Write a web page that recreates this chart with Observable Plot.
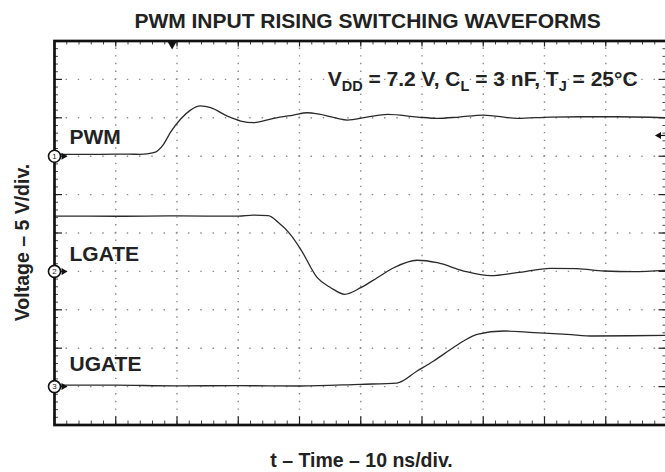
<!DOCTYPE html>
<html><head><meta charset="utf-8">
<script src="https://cdn.jsdelivr.net/npm/d3@7"></script>
<script src="https://cdn.jsdelivr.net/npm/@observablehq/plot@0.6"></script>
<style>
html,body{margin:0;padding:0;background:#fff;overflow:hidden;}
#chart{width:668px;height:472px;}
#chart svg{max-width:none !important;display:block;}
</style></head><body><div id="chart"></div>
<script>
// ---- data ----
const titleText = "PWM INPUT RISING SWITCHING WAVEFORMS";
const xLabel = "t – Time – 10 ns/div.";
const yLabel = "Voltage – 5 V/div.";
const annotation = "VDD = 7.2 V, CL = 3 nF, TJ = 25°C";
const channels = ["PWM", "LGATE", "UGATE"];
const channelNumbers = ["1", "2", "3"];
const nsPerDiv = 10;
const voltsPerDiv = 5;
const triggerTime = 19.2;   // ns
const triggerLevel = 2.7;   // V on channel 1

const pwmTime  = [0, 5, 10, 14, 16.2, 17.8, 18.9, 20.6, 22.2, 23.8, 25.5, 28.2, 30.4, 32.5, 35.8, 39.0, 41.3, 43.4, 47.8, 51.0, 54.4, 59.3, 62.5, 66.0, 70.0, 75.6, 81.0, 86.4, 91.9, 100];
const pwmVolts = [0.25, 0.23, 0.27, 0.25, 0.46, 1.55, 3.06, 4.84, 6.0, 6.54, 6.31, 5.23, 4.58, 4.36, 4.93, 5.36, 5.66, 5.45, 4.71, 5.1, 5.45, 5.10, 4.93, 5.1, 5.36, 4.93, 5.10, 5.14, 5.14, 5.01];

const lgateTime  = [0, 10, 20, 30, 32.5, 34.9, 36.5, 38.5, 40.2, 42.9, 45.1, 47.4, 50.0, 52.7, 55.4, 59.2, 62.5, 66.8, 71.2, 75.5, 81.0, 85.3, 89.7, 94.5, 100];
const lgateVolts = [7.2, 7.18, 7.22, 7.2, 7.33, 7.25, 6.4, 4.83, 2.88, -0.82, -2.12, -2.98, -2.12, -0.82, 0.48, 1.45, 1.13, 0.05, -0.56, -0.17, 0.40, 0.35, 0.05, -0.04, 0.14];

const ugateTime  = [0, 10, 20, 30, 40.2, 50, 55.9, 59.2, 61.9, 64.7, 66.8, 69.0, 73.4, 78.3, 83.7, 88.0, 94, 100];
const ugateVolts = [0.2, 0.18, 0.1, 0.12, 0.08, 0.3, 0.45, 2.03, 3.33, 4.86, 5.94, 6.81, 7.24, 7.02, 6.81, 6.59, 6.62, 6.68];

// ---- layout ----
const W = 668, H = 472, ML = 54, MR = 1.5, MT = 40.5, MB = 47.5;
const FW = W - ML - MR, FH = H - MT - MB;
const groundDiv = [7, 4, 1];          // channel ground positions (divisions from bottom)
const labelRise = [0.31, 0.26, 0.40]; // label baseline above ground (div)
const labelT = 2.45;
const font = "'Liberation Sans', Arial, Helvetica, sans-serif";
const ink = "#222";

const times = [pwmTime, lgateTime, ugateTime];
const volts = [pwmVolts, lgateVolts, ugateVolts];
const traces = channels.flatMap((c, i) => times[i].map((t, j) => ({channel: c, idx: i, t, v: volts[i][j]})));
const yOf = d => groundDiv[d.idx] + d.v / voltsPerDiv;

const xMinor = d3.range(0, 100.001, nsPerDiv / 5);
const xMajor = d3.range(0, 100.001, nsPerDiv);
const yMinor = d3.range(0, 10.001, 0.2);
const yMajor = d3.range(0, 10.001, 1);
const px = FW / 50, py = FH / 50;

const chart = Plot.plot({
  width: W, height: H,
  marginLeft: ML, marginRight: MR, marginTop: MT, marginBottom: MB,
  style: {fontFamily: font, background: "white", overflow: "visible"},
  x: {domain: [0, 100], axis: null},
  y: {domain: [0, 10], axis: null},
  marks: [
    // dotted graticule
    Plot.ruleY(d3.range(1, 10), {stroke: "#8a8a8a", strokeWidth: 1.4, strokeDasharray: `1.4,${px - 1.4}`, strokeDashoffset: 0.7}),
    Plot.ruleX(d3.range(10, 100, 10), {stroke: "#8a8a8a", strokeWidth: 1.4, strokeDasharray: `1.4,${py - 1.4}`, strokeDashoffset: 0.7}),
    // edge ticks
    Plot.ruleX(xMinor, {x: d => d, insetTop: FH - 4, stroke: "#444", strokeWidth: 1}),
    Plot.ruleX(xMajor, {x: d => d, insetTop: FH - 8, stroke: "#222", strokeWidth: 1.2}),
    Plot.ruleX(xMinor, {x: d => d, insetBottom: FH - 4, stroke: "#444", strokeWidth: 1}),
    Plot.ruleX(xMajor, {x: d => d, insetBottom: FH - 6, stroke: "#222", strokeWidth: 1.2}),
    Plot.ruleY(yMinor, {y: d => d, insetRight: FW - 4, stroke: "#444", strokeWidth: 1}),
    Plot.ruleY(yMajor, {y: d => d, insetRight: FW - 8, stroke: "#222", strokeWidth: 1.2}),
    Plot.ruleY(yMinor, {y: d => d, insetLeft: FW - 4, stroke: "#444", strokeWidth: 1}),
    Plot.ruleY(yMajor, {y: d => d, insetLeft: FW - 8, stroke: "#222", strokeWidth: 1.2}),
    // traces
    Plot.line(traces, {x: "t", y: yOf, z: "channel", stroke: "#2a2a2a", strokeWidth: 1.3, curve: "monotone-x"}),
    // frame
    Plot.frame({stroke: "#111", strokeWidth: 2.7}),
    // trigger markers
    Plot.dot([triggerTime], {x: d => d, y: 10, symbol: "triangle", rotate: 180, r: 3.2, fill: "#111", dy: 3.5}),
    Plot.ruleY([triggerLevel], {y: d => groundDiv[0] + d / voltsPerDiv, insetLeft: FW - 7, stroke: "#111", strokeWidth: 1.2}),
    Plot.dot([triggerLevel], {x: 100, y: d => groundDiv[0] + d / voltsPerDiv, symbol: "triangle", rotate: -90, r: 2.6, fill: "#111", dx: -8}),
    // channel ground markers
    Plot.dot(channels, {x: 0, y: (d, i) => groundDiv[i], symbol: "triangle", rotate: 90, r: 2.6, fill: "#111", dx: 9}),
    Plot.dot(channels, {x: 0, y: (d, i) => groundDiv[i], r: 6, fill: "white", stroke: "#111", strokeWidth: 1.6}),
    Plot.text(channelNumbers, {x: 0, y: (d, i) => groundDiv[i], text: d => d, fontSize: 8, fill: ink}),
    // channel labels
    Plot.text(channels, {x: labelT, y: (d, i) => groundDiv[i] + labelRise[i], text: d => d, textAnchor: "start", lineAnchor: "bottom", fontSize: 21, fontWeight: "bold", fill: ink}),
    // conditions annotation
    Plot.text([annotation], {x: 44.6, y: 8.84, text: d => d, textAnchor: "start", lineAnchor: "bottom", fontSize: 21, fontWeight: "bold", fill: ink}),
    // title and axis labels
    Plot.text([titleText], {frameAnchor: "top", text: d => d, textAnchor: "middle", lineAnchor: "bottom", dy: -13.5, dx: 6.75, fontSize: 21, fontWeight: "bold", fill: ink}),
    Plot.text([xLabel], {frameAnchor: "bottom", text: d => d, textAnchor: "middle", lineAnchor: "bottom", dy: 42, dx: 0.75, fontSize: 19.5, fontWeight: "bold", fill: ink}),
    Plot.text([yLabel], {frameAnchor: "left", text: d => d, rotate: -90, textAnchor: "middle", lineAnchor: "middle", dx: -32, dy: 9.5, fontSize: 19.5, fontWeight: "bold", fill: ink})
  ]
});

// subscripts in the conditions annotation
const parts = [["V", 0], ["DD", 1], [" = 7.2 V, C", 0], ["L", 1], [" = 3 nF, T", 0], ["J", 1], [" = 25°C", 0]];
d3.select(chart).selectAll("text").filter(function() { return this.textContent === annotation; }).each(function() {
  const el = d3.select(this);
  el.text("");
  let prev = 0;
  for (const [s, sub] of parts) {
    const ts = el.append("tspan").text(s);
    if (sub && !prev) ts.attr("dy", 5);
    if (!sub && prev) ts.attr("dy", -5);
    if (sub) ts.attr("font-size", 14.5);
    prev = sub;
  }
});
chart.style.maxWidth = "none";
document.getElementById("chart").appendChild(chart);
</script></body></html>
